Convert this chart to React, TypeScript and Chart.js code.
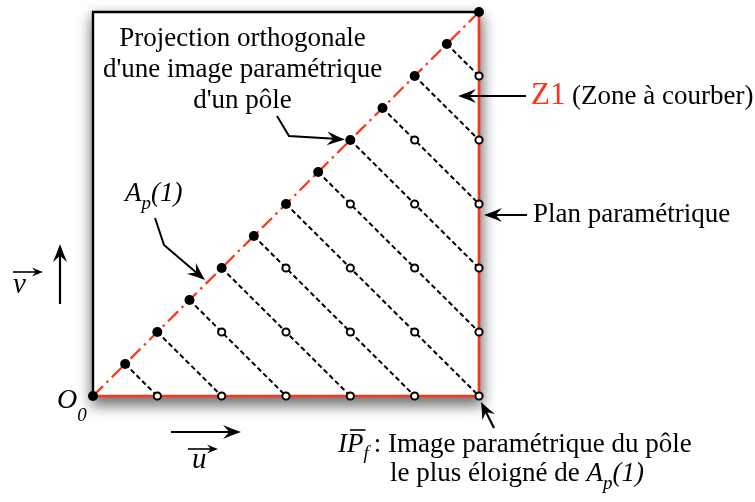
import React, { useEffect, useRef } from 'react';
import { Chart, registerables } from 'chart.js';

Chart.register(...registerables);

// ---- data (parametric plane, units of 1/12) ----
const poleU = [1, 2, 3, 4, 5, 6, 7, 8, 9, 10, 11, 12];
const poleV = [1, 2, 3, 4, 5, 6, 7, 8, 9, 10, 11, 12];
const originU = [0];
const originV = [0];
const projStartU = [1, 2, 3, 4, 5, 6, 7, 8, 9, 10, 11];
const projStartV = [1, 2, 3, 4, 5, 6, 7, 8, 9, 10, 11];
const projEndU = [2, 4, 6, 8, 10, 12, 12, 12, 12, 12, 12];
const projEndV = [0, 0, 0, 0, 0, 0, 2, 4, 6, 8, 10];
const imageU = [2, 4, 6, 8, 10, 12, 4, 6, 8, 10, 12, 6, 8, 10, 12, 8, 10, 12, 10, 12, 12];
const imageV = [0, 0, 0, 0, 0, 0, 2, 2, 2, 2, 2, 4, 4, 4, 4, 6, 6, 6, 8, 8, 10];
const diagU = [0, 12];
const diagV = [0, 12];
const zoneEdgeU = [0, 12, 12];
const zoneEdgeV = [0, 0, 12];
const frameU = [0, 0, 12];
const frameV = [0, 12, 12];
const axisMin = 0;
const axisMax = 12;

const RED = '#ff3214';
const SERIF = '"Liberation Serif", "Times New Roman", serif';

const pts = (us: number[], vs: number[]) => us.map((u, i) => ({ x: u, y: vs[i] }));

function arrow(ctx: CanvasRenderingContext2D, path: number[][], head = 18, hw = 7, lw = 2) {
  const n = path.length;
  const [x1, y1] = path[n - 2];
  const [x2, y2] = path[n - 1];
  const a = Math.atan2(y2 - y1, x2 - x1);
  ctx.save();
  ctx.strokeStyle = '#000';
  ctx.fillStyle = '#000';
  ctx.lineWidth = lw;
  ctx.lineJoin = 'miter';
  ctx.beginPath();
  ctx.moveTo(path[0][0], path[0][1]);
  for (let i = 1; i < n - 1; i++) ctx.lineTo(path[i][0], path[i][1]);
  ctx.lineTo(x2 - Math.cos(a) * head * 0.6, y2 - Math.sin(a) * head * 0.6);
  ctx.stroke();
  ctx.translate(x2, y2);
  ctx.rotate(a);
  ctx.beginPath();
  ctx.moveTo(0, 0);
  ctx.quadraticCurveTo(-head * 0.55, -hw * 0.5, -head, -hw);
  ctx.lineTo(-head * 0.65, 0);
  ctx.lineTo(-head, hw);
  ctx.quadraticCurveTo(-head * 0.55, hw * 0.5, 0, 0);
  ctx.closePath();
  ctx.fill();
  ctx.restore();
}

type Run = { t: string; f: string; dy?: number; c?: string };
function runs(ctx: CanvasRenderingContext2D, x: number, y: number, rs: Run[]) {
  ctx.save();
  ctx.textAlign = 'left';
  ctx.textBaseline = 'alphabetic';
  let cx = x;
  for (const r of rs) {
    ctx.font = r.f;
    ctx.fillStyle = r.c || '#000';
    ctx.fillText(r.t, cx, y + (r.dy || 0));
    cx += ctx.measureText(r.t).width;
  }
  ctx.restore();
  return cx;
}

const shadowPlugin = {
  id: 'frameShadow',
  beforeDatasetsDraw(chart: any) {
    const { ctx, chartArea: a } = chart;
    const w = a.right - a.left;
    const h = a.bottom - a.top;
    ctx.save();
    ctx.filter = 'blur(7px)';
    ctx.fillStyle = 'rgba(0,0,0,0.55)';
    ctx.fillRect(a.left - 2, a.top + 4, w + 6, h + 6);
    ctx.restore();
    ctx.save();
    ctx.filter = 'none';
    ctx.fillStyle = '#fff';
    ctx.fillRect(a.left, a.top, w, h);
    ctx.restore();
  },
};

const annotPlugin = {
  id: 'annotations',
  afterDraw(chart: any) {
    const ctx: CanvasRenderingContext2D = chart.ctx;
    const up = `27px ${SERIF}`;
    const it = `italic 27px ${SERIF}`;
    const sub = `italic 19px ${SERIF}`;

    // Projection orthogonale label
    ctx.save();
    ctx.font = up;
    ctx.fillStyle = '#000';
    ctx.textAlign = 'center';
    ctx.fillText('Projection orthogonale', 242.5, 46);
    ctx.fillText("d'une image paramétrique", 242.5, 77);
    ctx.fillText("d'un pôle", 242.5, 108);
    ctx.restore();
    arrow(ctx, [[277, 116], [289, 136], [345, 139.5]]);

    // A_p(1)
    runs(ctx, 125, 201, [
      { t: 'A', f: it },
      { t: 'p', f: sub, dy: 8 },
      { t: '(1)', f: it },
    ]);
    arrow(ctx, [[155, 218], [164, 245], [205, 280]]);

    // Z1 (Zone à courber)
    arrow(ctx, [[526, 96], [458, 96]]);
    runs(ctx, 531, 104, [{ t: 'Z1', f: `31px ${SERIF}`, c: RED }]);
    runs(ctx, 572, 104, [{ t: '(Zone à courber)', f: up }]);

    // Plan paramétrique
    arrow(ctx, [[527, 215], [484, 215]]);
    runs(ctx, 533, 222, [{ t: 'Plan paramétrique', f: up }]);

    // v vector
    arrow(ctx, [[60, 304], [60, 244]], 18, 7, 2.2);
    runs(ctx, 13, 293, [{ t: 'v', f: `italic 29px ${SERIF}` }]);
    arrow(ctx, [[13, 272], [43, 272]], 11, 4.5, 1.6);

    // u vector
    arrow(ctx, [[171, 432], [241, 432]], 18, 7, 2.2);
    runs(ctx, 192, 468, [{ t: 'u', f: `italic 29px ${SERIF}` }]);
    arrow(ctx, [[188, 449], [218, 449]], 11, 4.5, 1.6);

    // O_0
    runs(ctx, 57, 408, [
      { t: 'O', f: `italic 28px ${SERIF}` },
      { t: '0', f: sub, dy: 13 },
    ]);

    // IPf label
    arrow(ctx, [[494, 428], [481, 402]], 17, 7, 2.2);
    ctx.save();
    ctx.font = it;
    const iw = ctx.measureText('I').width;
    const pw = ctx.measureText('P').width;
    ctx.restore();
    const endX = runs(ctx, 338, 452, [
      { t: 'I', f: it },
      { t: 'P', f: it },
      { t: 'f', f: sub, dy: 7 },
    ]);
    ctx.save();
    ctx.strokeStyle = '#000';
    ctx.lineWidth = 1.6;
    ctx.beginPath();
    ctx.moveTo(338 + iw + 3, 430);
    ctx.lineTo(338 + iw + pw + 2, 430);
    ctx.stroke();
    ctx.restore();
    runs(ctx, endX + 5, 452, [{ t: ': Image paramétrique du pôle', f: up }]);
    runs(ctx, 390, 481, [
      { t: 'le plus éloigné de ', f: up },
      { t: 'A', f: it },
      { t: 'p', f: sub, dy: 8 },
      { t: '(1)', f: it },
    ]);
  },
};

export default function App() {
  const ref = useRef<HTMLCanvasElement | null>(null);
  useEffect(() => {
    if (!ref.current) return;
    const projSets = projStartU.map((u, i) => ({
      data: [
        { x: u, y: projStartV[i] },
        { x: projEndU[i], y: projEndV[i] },
      ],
      showLine: true,
      borderColor: '#000',
      borderWidth: 2,
      borderDash: [5, 3],
      pointRadius: 0,
      clip: false as any,
    }));
    const chart = new Chart(ref.current, {
      type: 'scatter',
      data: {
        datasets: [
          {
            data: pts(originU, originV),
            pointRadius: 5,
            pointBackgroundColor: '#000',
            pointBorderWidth: 0,
            clip: false as any,
          },
          {
            data: pts(poleU, poleV),
            pointRadius: 5,
            pointBackgroundColor: '#000',
            pointBorderWidth: 0,
            clip: false as any,
          },
          {
            data: pts(imageU, imageV),
            pointRadius: 3.6,
            pointBackgroundColor: '#fff',
            pointBorderColor: '#000',
            pointBorderWidth: 2,
            clip: false as any,
          },
          ...projSets,
          {
            data: pts(diagU, diagV),
            showLine: true,
            borderColor: RED,
            borderWidth: 2.2,
            borderDash: [14, 5, 2.5, 5],
            pointRadius: 0,
            clip: false as any,
          },
          {
            data: pts(zoneEdgeU, zoneEdgeV),
            showLine: true,
            borderColor: RED,
            borderWidth: 2.6,
            pointRadius: 0,
            clip: false as any,
          },
          {
            data: pts(frameU, frameV),
            showLine: true,
            borderColor: '#000',
            borderWidth: 2.4,
            pointRadius: 0,
            clip: false as any,
          },
        ] as any,
      },
      options: {
        animation: false,
        responsive: false,
        devicePixelRatio: 1,
        events: [],
        layout: { autoPadding: false, padding: { left: 93, right: 276, top: 12, bottom: 106 } },
        plugins: { legend: { display: false }, tooltip: { enabled: false } },
        scales: {
          x: { type: 'linear', min: axisMin, max: axisMax, display: false },
          y: { type: 'linear', min: axisMin, max: axisMax, display: false },
        },
      } as any,
      plugins: [shadowPlugin, annotPlugin],
    });
    return () => chart.destroy();
  }, []);
  return (
    <div style={{ position: 'fixed', left: 0, top: 0, width: 755, height: 502, background: '#fff' }}>
      <canvas ref={ref} width={755} height={502} style={{ display: 'block', width: 755, height: 502 }} />
    </div>
  );
}
